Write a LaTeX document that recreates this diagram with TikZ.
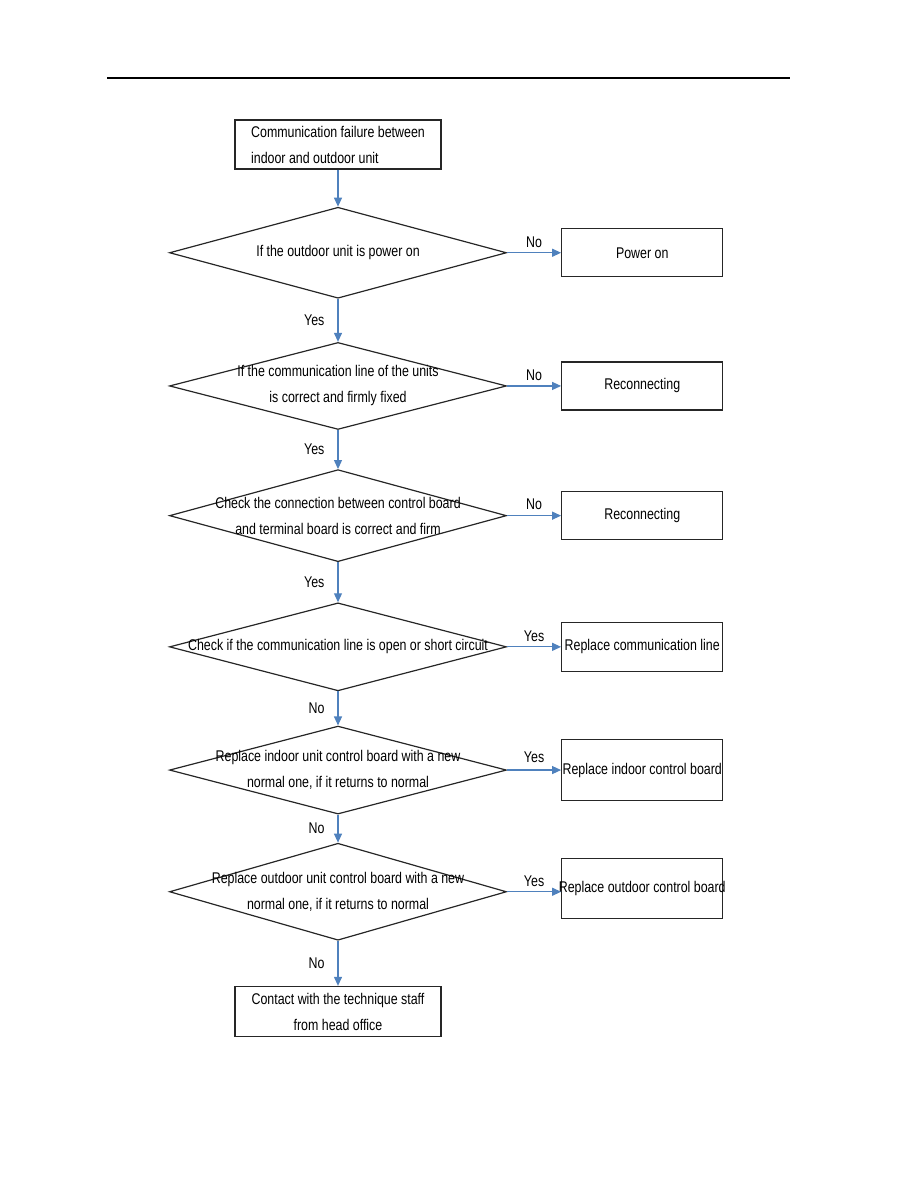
\documentclass[tikz,border=0pt]{standalone}
\usepackage{fontspec}
\newfontfamily\chartfont{Liberation Sans}[FakeStretch=0.8]
\usetikzlibrary{
  arrows.meta,
  positioning,
  shapes.geometric
}
\definecolor{Ink}{HTML}{262626}
\definecolor{FlowBlue}{HTML}{4F81BD}
\newcommand{\chartnormalfont}{\chartfont\fontsize{15.5}{26}\selectfont}
\tikzset{
  % Global typography and reusable block geometry.
  every node/.style={font=\chartnormalfont, text=black},
  process box/.style={
    draw=Ink,
    line width=1.3pt,
    minimum width=206pt,
    minimum height=49pt,
    inner sep=0pt,
    align=center
  },
  start box/.style={
    process box,
    align=left
  },
  decision/.style={
    diamond,
    draw=Ink,
    line width=1.2pt,
    minimum width=337pt,
    inner sep=0pt
  },
  decision text/.style={
    align=center,
    inner sep=0pt
  },
  action box/.style={
    draw=Ink,
    line width=1.3pt,
    minimum width=161pt,
    minimum height=48pt,
    inner sep=1pt,
    align=center
  },
  flow/.style={
    -{Triangle[length=9pt,width=8pt]},
    draw=FlowBlue,
    line width=1.2pt
  },
  branch label/.style={
    inner sep=1pt
  }
}
\begin{document}
\begin{tikzpicture}
\useasboundingbox (0,0) rectangle (918pt,-1188pt);

% page header rule
\draw[line width=1.3pt] (107pt,-78pt) -- (790pt,-78pt);

% ---------------------------------------------------------------------------
% Main column: fault, checks and final step
% ---------------------------------------------------------------------------
\node[start box] (fault) at (338pt,-144.5pt)
  {Communication failure between\\indoor and outdoor unit};

\node[decision, minimum height=91pt, below=37pt of fault,
  label={[decision text]center:{If the outdoor unit is power on}}] (powerCheck) {};

\node[decision, minimum height=87pt, below=43pt of powerCheck,
  label={[decision text]center:{If the communication line of the units\\is correct and firmly fixed}}] (lineCheck) {};

\node[decision, minimum height=92pt, below=39pt of lineCheck,
  label={[decision text]center:{Check the connection between control board\\and terminal board is correct and firm}}] (boardCheck) {};

\node[decision, minimum height=88pt, below=40pt of boardCheck,
  label={[decision text]center:{Check if the communication line is open or short circuit}}] (openCheck) {};

\node[decision, minimum height=88pt, below=34pt of openCheck,
  label={[decision text]center:{Replace indoor unit control board with a new\\normal one, if it returns to normal}}] (indoorCheck) {};

\node[decision, minimum height=97pt, below=28pt of indoorCheck,
  label={[decision text]center:{Replace outdoor unit control board with a new\\normal one, if it returns to normal}}] (outdoorCheck) {};

\node[process box, minimum height=50pt, below=45pt of outdoorCheck] (contact)
  {Contact with the technique staff\\from head office};

% ---------------------------------------------------------------------------
% Side actions
% ---------------------------------------------------------------------------
\node[action box, right=54pt of powerCheck] (powerOn) {Power on};
\node[action box, right=54pt of lineCheck] (reconnectLine) {Reconnecting};
\node[action box, right=54pt of boardCheck] (reconnectBoard) {Reconnecting};
\node[action box, minimum height=49pt, right=54pt of openCheck] (replaceLine)
  {\makebox[157pt]{Replace communication line}};
\node[action box, minimum height=61pt, right=54pt of indoorCheck] (replaceIndoor)
  {\makebox[157pt]{Replace indoor control board}};
\node[action box, minimum height=60pt, right=54pt of outdoorCheck, yshift=3pt] (replaceOutdoor)
  {\makebox[157pt]{Replace outdoor control board}};

% ---------------------------------------------------------------------------
% Connectors
% ---------------------------------------------------------------------------
\draw[flow] (fault) -- (powerCheck);
\draw[flow] (powerCheck) -- node[branch label, left=12pt] {Yes} (lineCheck);
\draw[flow] (lineCheck) -- node[branch label, left=12pt] {Yes} (boardCheck);
\draw[flow] (boardCheck) -- node[branch label, left=12pt] {Yes} (openCheck);
\draw[flow] (openCheck) -- node[branch label, left=12pt] {No} (indoorCheck);
\draw[flow] (indoorCheck) -- node[branch label, left=12pt] {No} (outdoorCheck);
\draw[flow] (outdoorCheck) -- node[branch label, left=12pt] {No} (contact);

\draw[flow] (powerCheck.east) -- node[branch label, above=4pt] {No} (powerOn.west);
\draw[flow] (lineCheck.east) -- node[branch label, above=4pt] {No} (reconnectLine.west);
\draw[flow] (boardCheck.east) -- node[branch label, above=4pt] {No} (reconnectBoard.west);
\draw[flow] (openCheck.east) -- node[branch label, above=4pt] {Yes} (replaceLine.west);
\draw[flow] (indoorCheck.east) -- node[branch label, above=6pt] {Yes} (replaceIndoor.west);
\draw[flow] (outdoorCheck.east) -- node[branch label, above=4pt] {Yes} (replaceOutdoor.west |- outdoorCheck.east);

\end{tikzpicture}
\end{document}
